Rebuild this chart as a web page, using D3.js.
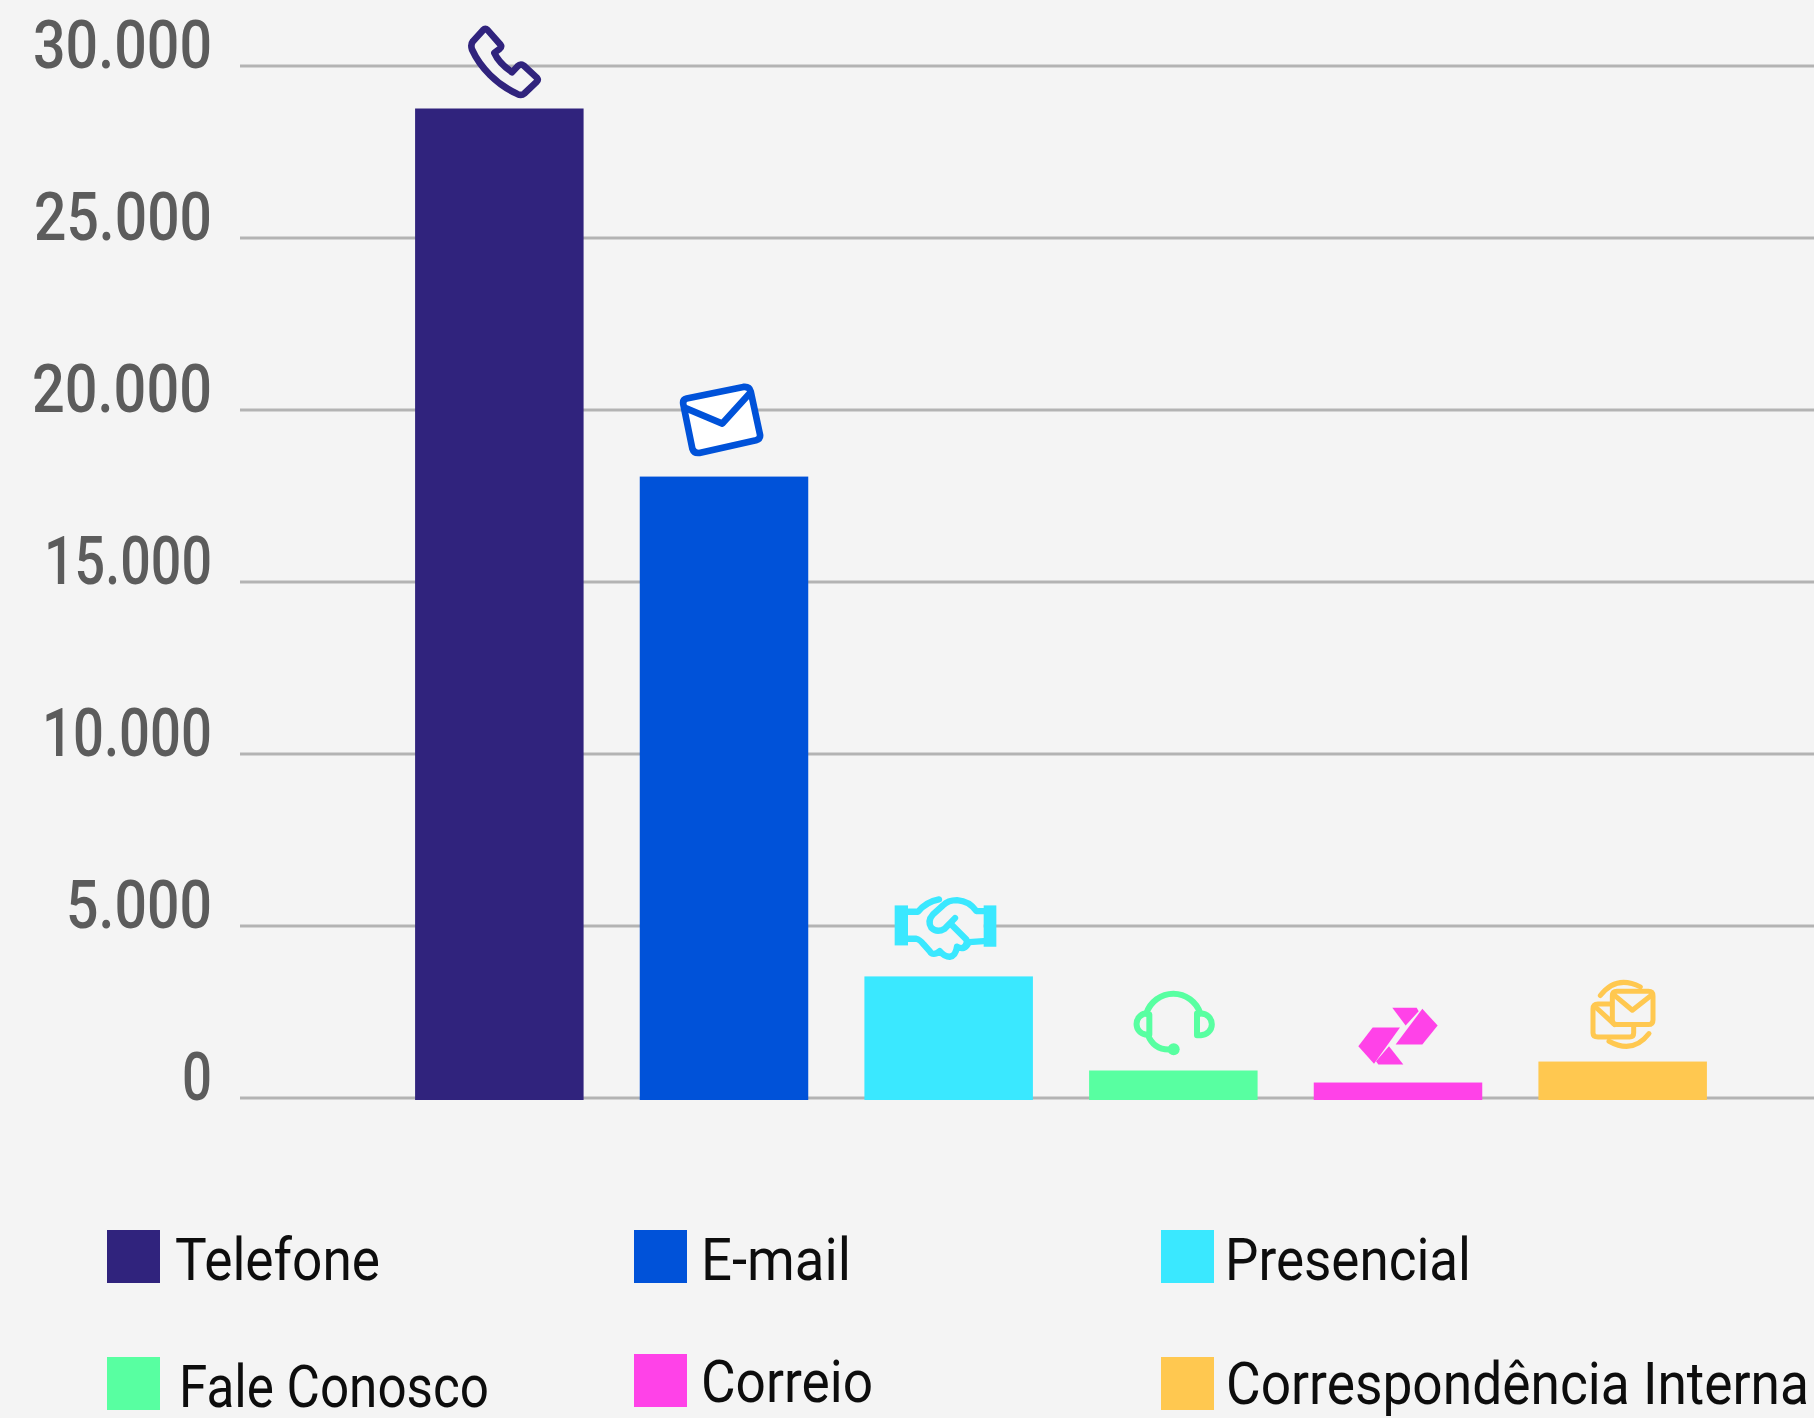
<!DOCTYPE html>
<html>
<head>
<meta charset="utf-8">
<script src="https://cdn.jsdelivr.net/npm/d3@7"></script>
<style>
  html, body { margin: 0; padding: 0; background: #f4f4f4; }
  svg { display: block; }
  text { font-family: Roboto, sans-serif; }
</style>
</head>
<body>
<svg id="chart"></svg>
<script>
const categories = ["Telefone", "E-mail", "Presencial", "Fale Conosco", "Correio", "Correspondência Interna"];
const values = [28750, 18050, 3520, 785, 435, 1045];
const colors = ["#30237d", "#0052d9", "#3ae8ff", "#58ffa1", "#ff42e8", "#ffc850"];
const yTicks = [0, 5000, 10000, 15000, 20000, 25000, 30000];
// the original font is narrower than Roboto, so the label widths are forced
const yTickWidths = [30, 146, 170, 168, 180, 178, 179];

// legend is not a regular grid in the original, so placed by hand: [swatch x, swatch y, text x, baseline, text width]
const legendLayout = [
  [107, 1230, 175, 1280, 205],
  [634, 1230, 701, 1280, 150],
  [1161, 1230, 1225, 1280, 246],
  [107, 1357, 179, 1407, 310],
  [634, 1354, 701, 1402, 172],
  [1161, 1357, 1226, 1404, 583]
];

// icons drawn at 3x, ax/ay is the point that sits on the middle of the bar top
const icons = [
  { ax: 237, ay: 327, sw: 20, fill: "#f4f4f4", paths: [
    "M202 92L240 135Q245 142 238 148L222 160Q235 190 275 218L292 200Q300 192 310 198L350 235Q355 242 348 248L312 282Q303 290 290 283C230 255 180 205 155 150Q150 135 158 125L188 92Q195 85 202 92Z"
  ] },
  { ax: 912, ay: 1431, sw: 20, fill: "#ffffff", paths: [
    "M800 1197L970 1162Q988 1160 992 1175L1020 1305Q1022 1318 1008 1322L838 1360Q822 1362 817 1347L790 1215Q787 1200 800 1197Z",
    "M795 1225L907 1272L990 1180"
  ] },
  { ax: 297, ay: 321, sw: 19, fill: "none", paths: [
    { d: "M175 127L205 127Q230 97 268 90L322 92Q360 95 380 125L402 125L402 215L360 215Q345 245 325 240Q318 260 300 262Q285 262 270 255Q250 262 240 245L222 225Q210 210 200 208L175 208Z", fill: "#f4f4f4", stroke: "none" },
    { d: "M135 108H175V228H135Z", fill: "currentColor", stroke: "none" },
    { d: "M402 108H440V232H402Z", fill: "currentColor", stroke: "none" },
    "M175 127L205 127Q230 97 268 90",
    "M175 208L200 208Q210 210 222 225L240 245Q250 262 270 245Q285 262 300 262Q318 260 322 232Q345 245 358 218L402 215",
    "M402 125L380 125Q360 95 322 92Q295 92 280 108L250 135Q232 155 245 175Q262 192 285 178L316 146",
    "M305 165L350 210Q355 225 340 235"
  ] },
  { ax: 969, ay: 603, sw: 18, fill: "none", paths: [
    "M888 432A85 85 0 0 1 1050 432",
    "M897 435L897 495L885 495A32 32 0 0 1 885 432Z",
    "M1040 432L1040 497L1052 497A32 32 0 0 0 1052 432Z",
    "M893 497Q910 540 955 540",
    { d: "M952 539a18 18 0 1 0 36 0a18 18 0 1 0 -36 0Z", fill: "currentColor", stroke: "none" }
  ] },
  { ax: 174, ay: 399, sw: 0, fill: "currentColor", paths: [
    "M157 175L230 175L236 185L197 228Z",
    "M247 178L293 228L247 285L167 285Z",
    "M98 234L180 234L102 343L55 290Z",
    "M147 290L190 345L115 345L108 335Z"
  ] },
  { ax: 849, ay: 336, sw: 15, fill: "none", paths: [
    "M832 125L926 125Q940 125 940 139L940 211Q940 225 926 225L832 225Q818 225 818 211L818 139Q818 125 832 125Z",
    "M822 135L878 182L938 135",
    "M815 163L775 163Q760 163 760 178L760 250Q760 262 775 262L870 262Q882 262 882 250L882 228",
    "M765 170L825 225",
    "M782 138Q830 75 902 112",
    "M808 275Q880 315 928 252"
  ] }
];

const width = 1814, height = 1418;
const plot = { left: 240, right: 1814, top: 65.5, bottom: 1097.5 };

const svg = d3.select("#chart")
  .attr("width", width)
  .attr("height", height);

svg.append("rect")
  .attr("width", width)
  .attr("height", height)
  .attr("fill", "#f4f4f4");

const x = d3.scaleBand()
  .domain(categories)
  .range([387, 1735])
  .paddingInner(0.25)
  .paddingOuter(0.125);

const y = d3.scaleLinear()
  .domain([0, 30000])
  .range([plot.bottom, plot.top]);

const fmt = d3.formatLocale({ decimal: ",", thousands: ".", grouping: [3], currency: ["", ""] }).format(",");

// Add Y axis, the ticks double as the gridlines
const yAxis = svg.append("g")
  .attr("transform", "translate(" + plot.left + ",0)")
  .call(d3.axisLeft(y)
    .tickValues(yTicks)
    .tickFormat(fmt)
    .tickSize(-(plot.right - plot.left))
    .tickPadding(0));

yAxis.select(".domain").remove();
yAxis.selectAll("line")
  .attr("stroke", "#b3b3b3")
  .attr("stroke-width", 3);
yAxis.selectAll("text")
  .attr("x", -28)
  .attr("y", 2)
  .attr("dy", 0)
  .attr("textLength", d => yTickWidths[yTicks.indexOf(d)])
  .attr("lengthAdjust", "spacingAndGlyphs")
  .attr("fill", "#5c5c5c")
  .style("font-size", "66px")
  .style("font-weight", 500);

// bars
svg.selectAll(".bar")
  .data(categories)
  .join("rect")
  .attr("class", "bar")
  .attr("x", d => x(d))
  .attr("width", x.bandwidth())
  .attr("y", (d, i) => y(values[i]))
  .attr("height", (d, i) => y(0) - y(values[i]) + 2.5)
  .attr("fill", (d, i) => colors[i]);

// icon above each bar
const icon = svg.selectAll(".icon")
  .data(categories)
  .join("g")
  .attr("class", "icon")
  .style("color", (d, i) => colors[i])
  .attr("transform", (d, i) =>
    "translate(" + (x(d) + x.bandwidth() / 2) + "," + y(values[i]) + ") scale(" + (1 / 3) + ") translate(" + (-icons[i].ax) + "," + (-icons[i].ay) + ")");

icon.each(function (d, i) {
  const ic = icons[i];
  const g = d3.select(this);
  ic.paths.forEach(function (p) {
    const o = typeof p === "string" ? { d: p } : p;
    g.append("path")
      .attr("d", o.d)
      .attr("fill", o.fill || ic.fill)
      .attr("stroke", o.stroke || "currentColor")
      .attr("stroke-width", ic.sw)
      .attr("stroke-linejoin", "round")
      .attr("stroke-linecap", "round");
  });
});

// legend
const legend = svg.selectAll(".legend")
  .data(categories)
  .join("g")
  .attr("class", "legend");

legend.append("rect")
  .attr("x", (d, i) => legendLayout[i][0])
  .attr("y", (d, i) => legendLayout[i][1])
  .attr("width", 53)
  .attr("height", 53)
  .attr("fill", (d, i) => colors[i]);

legend.append("text")
  .attr("x", (d, i) => legendLayout[i][2])
  .attr("y", (d, i) => legendLayout[i][3])
  .attr("textLength", (d, i) => legendLayout[i][4])
  .attr("lengthAdjust", "spacingAndGlyphs")
  .attr("fill", "#0d0d0d")
  .style("font-size", "60px")
  .text(d => d);
</script>
</body>
</html>
